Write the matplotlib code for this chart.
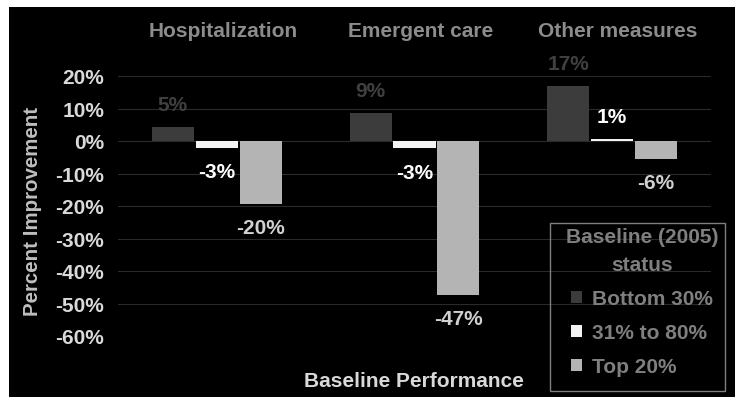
import numpy as np
import matplotlib
matplotlib.use("Agg")
import matplotlib.pyplot as plt
from matplotlib.patches import Rectangle

plt.rcParams['font.family'] = ['Liberation Sans', 'DejaVu Sans']
plt.rcParams['font.weight'] = 'bold'

categories = ['Hospitalization', 'Emergent care', 'Other measures']
series = ['Bottom 30%', '31% to 80%', 'Top 20%']
bottom30 = [4.4, 8.6, 16.9]
mid = [-2.2, -2.3, 0.6]
top20 = [-19.4, -47.4, -5.5]
bottom30_lbl = ['5%', '9%', '17%']
mid_lbl = ['-3%', '-3%', '1%']
top20_lbl = ['-20%', '-47%', '-6%']
yticks = [20, 10, 0, -10, -20, -30, -40, -50, -60]

colors = ['#3c3c3c', '#f2f2f2', '#b4b4b4']
lbl_colors = ['#404040', '#ffffff', '#d0d0d0']
fs = 15

fig = plt.figure(figsize=(7.35, 4.06), dpi=100, facecolor='white')
fig.patches.append(Rectangle((9 / 735, 1 - 398 / 406), 1 - 9 / 735, 390 / 406,
                             transform=fig.transFigure, facecolor='black',
                             edgecolor='none', zorder=-1))
ax = fig.add_axes([118 / 735, 1 - 337 / 406, 593 / 735, 260 / 406])
ax.set_facecolor('black')

x = np.arange(len(categories)) + 0.5
w = 0.213
step = 0.222
data = [bottom30, mid, top20]
labels = [bottom30_lbl, mid_lbl, top20_lbl]
for i, (vals, lbls) in enumerate(zip(data, labels)):
    xs = x + (i - 1) * step
    ax.bar(xs, vals, width=w, color=colors[i], label=series[i], zorder=2)
    for xx, v, t in zip(xs, vals, lbls):
        off = 16 if v > 0 else -17
        ax.annotate(t, (xx, v), xytext=(0, off), textcoords='offset points',
                    ha='center', va='center', fontsize=fs, color=lbl_colors[i],
                    fontweight='bold')

ax.set_xlim(0, 3)
ax.set_ylim(-60, 20)
ax.set_yticks(yticks)
ax.set_yticklabels([f'{t}%' for t in yticks], color='#d9d9d9', fontsize=fs,
                   fontweight='bold')
ax.tick_params(axis='y', length=0, pad=10)
ax.grid(axis='y', color='#2a2a2a', linewidth=0.8, zorder=0)
for s in ax.spines.values():
    s.set_visible(False)

ax.xaxis.tick_top()
ax.set_xticks(x + 0.03)
ax.set_xticklabels(categories, color='#8c8c8c', fontsize=fs, fontweight='bold')
ax.tick_params(axis='x', length=0, pad=26)

fig.text(33 / 735, 1 - 211 / 406, 'Percent Improvement', rotation=90,
         ha='center', va='center', color='#bfbfbf', fontsize=14.8,
         fontweight='bold')
fig.text(414 / 735, 1 - 382 / 406, 'Baseline Performance', ha='center',
         va='center', color='#d9d9d9', fontsize=fs, fontweight='bold')

# legend box drawn separately so its size matches the original
fig.patches.append(Rectangle((550 / 735, 1 - 392 / 406), 175 / 735, 168 / 406,
                             transform=fig.transFigure, facecolor='none',
                             edgecolor='#7f7f7f', linewidth=1.0, zorder=5))
leg = ax.legend(loc='upper center', bbox_to_anchor=(642 / 735, 1 - 226 / 406),
                bbox_transform=fig.transFigure, title='Baseline (2005)\nstatus',
                fontsize=fs, title_fontproperties={'size': fs, 'weight': 'bold'},
                handlelength=0.5, handleheight=0.5, handletextpad=0.5,
                labelspacing=0.72, borderpad=0.1, borderaxespad=0,
                frameon=False, labelcolor='#7f7f7f')
leg.get_title().set_color('#7f7f7f')
leg.get_title().set_multialignment('center')
leg.get_title().set_linespacing(1.6)

fig.savefig('out.png', dpi=100, facecolor='white')
